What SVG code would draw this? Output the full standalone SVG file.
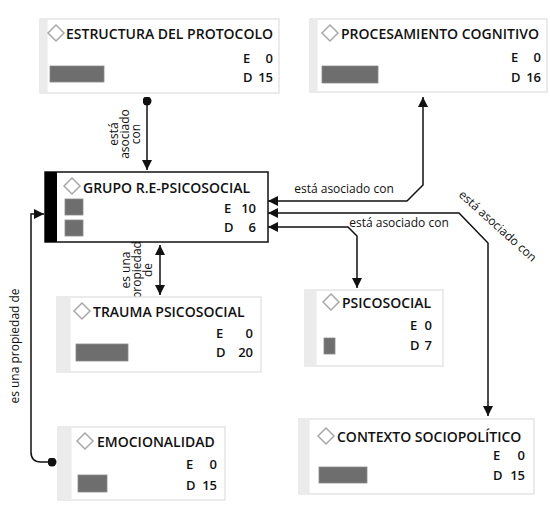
<svg xmlns="http://www.w3.org/2000/svg" width="550" height="508" viewBox="0 0 550 508">
<style>
.box{fill:#fff;stroke:#dedede;stroke-width:1.2}
.band{fill:#ebebeb}
.bar{fill:#6e6e6e;stroke:#8a8a8a;stroke-width:0.8}
.dia{fill:#fff;stroke:#a8a8a8;stroke-width:1.5}
.t{font-family:"Open Sans","Noto Sans",sans-serif;font-weight:600;font-size:14px;fill:#111}
.n{font-family:"Open Sans","Noto Sans",sans-serif;font-weight:600;font-size:13px;fill:#111}
.r{text-anchor:end}
.lbl{font-family:"Open Sans","Noto Sans",sans-serif;font-size:12px;fill:#111}
.ln{fill:none;stroke:#111;stroke-width:1.5}
</style>
<defs>
<path id="d" class="dia" d="M0,-8 L8,0 L0,8 L-8,0 Z"/>
<marker id="ah" viewBox="0 0 10 10" refX="10" refY="5" markerWidth="10" markerHeight="10" markerUnits="userSpaceOnUse" orient="auto-start-reverse"><path d="M0,0 L10,5 L0,10 Z" fill="#111"/></marker>
<marker id="dot" viewBox="0 0 10 10" refX="5" refY="5" markerWidth="9" markerHeight="9" markerUnits="userSpaceOnUse"><circle cx="5" cy="5" r="5" fill="#111"/></marker>
</defs>

<g id="connectors">
<path class="ln" d="M147,101 V170" marker-start="url(#dot)" marker-end="url(#ah)"/>
<text class="lbl" transform="translate(130,134) rotate(-90)" text-anchor="middle"><tspan x="0" y="-12">está</tspan><tspan x="0" y="-1">asociado</tspan><tspan x="0" y="10">con</tspan></text>
<path class="ln" d="M268,201 H407 L423,185 V97" marker-start="url(#ah)" marker-end="url(#ah)"/>
<text class="lbl" x="344" y="193" text-anchor="middle">está asociado con</text>
<path class="ln" d="M268,213 H459 L488,243 V416" marker-start="url(#ah)" marker-end="url(#ah)"/>
<text class="lbl" transform="translate(495,229) rotate(42)" text-anchor="middle">está asociado con</text>
<path class="ln" d="M268,227 H348 L357,236 V288" marker-start="url(#ah)" marker-end="url(#ah)"/>
<text class="lbl" x="399" y="227" text-anchor="middle">está asociado con</text>
<path class="ln" d="M160,245 V295" marker-start="url(#ah)" marker-end="url(#ah)"/>
<text class="lbl" transform="translate(142,270) rotate(-90)" text-anchor="middle"><tspan x="0" y="-12">es una</tspan><tspan x="0" y="-1">propiedad</tspan><tspan x="0" y="10">de</tspan></text>
<path class="ln" d="M44,214 H31 V452 Q31,462 41,462 H52" marker-start="url(#ah)" marker-end="url(#dot)"/>
<text class="lbl" transform="translate(19,346) rotate(-90)" text-anchor="middle">es una propiedad de</text>
</g>

<g id="estructura">
<rect class="box" x="40" y="19" width="239" height="74"/>
<rect class="band" x="40.6" y="19.6" width="7" height="72.8"/>
<use href="#d" x="56" y="33"/>
<text class="t" x="66" y="39">ESTRUCTURA DEL PROTOCOLO</text>
<text class="n" x="243" y="63">E</text><text class="n r" x="273" y="63">0</text>
<text class="n" x="243" y="82">D</text><text class="n r" x="273" y="82">15</text>
<rect class="bar" x="50" y="66" width="54" height="16"/>
</g>

<g id="procesamiento">
<rect class="box" x="310" y="19" width="237" height="73"/>
<rect class="band" x="310.6" y="19.6" width="7" height="71.8"/>
<use href="#d" x="330" y="33"/>
<text class="t" x="341" y="39">PROCESAMIENTO COGNITIVO</text>
<text class="n" x="511" y="62">E</text><text class="n r" x="541" y="62">0</text>
<text class="n" x="511" y="82">D</text><text class="n r" x="541" y="82">16</text>
<rect class="bar" x="322" y="66" width="56" height="17"/>
</g>

<g id="grupo">
<rect x="45" y="172" width="223" height="70" fill="#fff" stroke="#111" stroke-width="1.5"/>
<rect x="45" y="172" width="12" height="70" fill="#000"/>
<use href="#d" x="72" y="186"/>
<text class="t" x="83" y="193">GRUPO R.E-PSICOSOCIAL</text>
<rect class="bar" x="65" y="199" width="18" height="16"/>
<rect class="bar" x="65" y="220" width="18" height="16"/>
<text class="n" x="224" y="213">E</text><text class="n r" x="256" y="213">10</text>
<text class="n" x="224" y="232">D</text><text class="n r" x="256" y="232">6</text>
</g>

<g id="trauma">
<rect class="box" x="57" y="297" width="204" height="75"/>
<rect class="band" x="57.6" y="297.6" width="13" height="73.8"/>
<use href="#d" x="82" y="311"/>
<text class="t" x="93" y="317">TRAUMA PSICOSOCIAL</text>
<text class="n" x="216" y="338">E</text><text class="n r" x="253" y="338">0</text>
<text class="n" x="216" y="357">D</text><text class="n r" x="253" y="357">20</text>
<rect class="bar" x="76" y="344" width="52" height="17"/>
</g>

<g id="psicosocial">
<rect class="box" x="305" y="290" width="138" height="76"/>
<rect class="band" x="305.6" y="290.6" width="11" height="74.8"/>
<use href="#d" x="331" y="302"/>
<text class="t" x="342" y="308">PSICOSOCIAL</text>
<text class="n" x="410" y="330">E</text><text class="n r" x="432" y="330">0</text>
<text class="n" x="410" y="350">D</text><text class="n r" x="432" y="350">7</text>
<rect class="bar" x="324" y="338" width="11" height="16"/>
</g>

<g id="contexto">
<rect class="box" x="299" y="419" width="235" height="75"/>
<rect class="band" x="299.6" y="419.6" width="10" height="73.8"/>
<use href="#d" x="326" y="436"/>
<text class="t" x="337" y="442">CONTEXTO SOCIOPOLÍTICO</text>
<text class="n" x="493" y="460">E</text><text class="n r" x="525" y="460">0</text>
<text class="n" x="493" y="480">D</text><text class="n r" x="525" y="480">15</text>
<rect class="bar" x="319" y="467" width="48" height="16"/>
</g>

<g id="emocionalidad">
<rect class="box" x="58" y="427" width="167" height="73"/>
<rect class="band" x="58.6" y="427.6" width="13" height="71.8"/>
<use href="#d" x="85" y="441"/>
<text class="t" x="97" y="447">EMOCIONALIDAD</text>
<text class="n" x="186" y="469">E</text><text class="n r" x="217" y="469">0</text>
<text class="n" x="186" y="490">D</text><text class="n r" x="217" y="490">15</text>
<rect class="bar" x="78" y="475" width="29" height="17"/>
</g>
</svg>
